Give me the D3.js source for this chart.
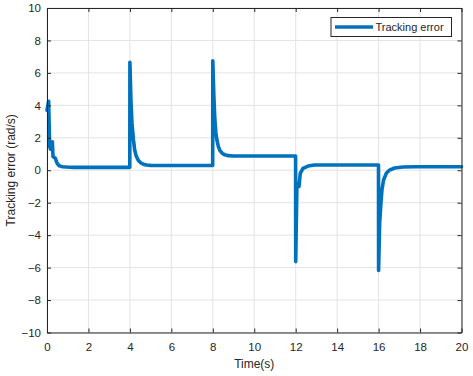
<!DOCTYPE html>
<html>
<head>
<meta charset="utf-8">
<script src="https://cdn.jsdelivr.net/npm/d3@7"></script>
<style>
  body { margin: 0; background: #fff; }
  svg text { font-family: "Liberation Sans", Arial, sans-serif; fill: #262626; }
</style>
</head>
<body>
<div id="chart"></div>
<script>
// time (s) and tracking error (rad/s)
const time = [0, 0.04, 0.08, 0.1, 0.13, 0.17, 0.22, 0.26, 0.29, 0.33, 0.4, 0.45, 0.5, 0.6, 0.75, 0.95, 1.3,
  3.995, 4.0, 4.05, 4.1, 4.17, 4.23, 4.3, 4.4, 4.52, 4.65, 4.8, 5.0, 5.4,
  7.995, 8.0, 8.05, 8.1, 8.15, 8.2, 8.27, 8.34, 8.45, 8.58, 8.75, 9.0,
  11.995, 12.0, 12.06, 12.16, 12.22, 12.35, 12.6, 12.9,
  15.995, 16.0, 16.05, 16.1, 16.16, 16.24, 16.37, 16.53, 16.77, 17.17, 17.8, 20];
const trackingError = [3.7, 4.0, 4.25, 3.0, 1.45, 1.3, 1.6, 1.75, 0.85, 0.8, 0.75, 0.55, 0.4, 0.27, 0.22, 0.2, 0.18,
  0.18, 6.65, 4.3, 2.9, 1.9, 1.25, 0.9, 0.62, 0.46, 0.37, 0.32, 0.3, 0.29,
  0.29, 6.75, 4.6, 3.1, 2.3, 1.85, 1.45, 1.23, 1.05, 0.95, 0.9, 0.88,
  0.88, -5.63, -0.81, -1.0, -0.19, 0.12, 0.26, 0.32,
  0.32, -6.18, -3.27, -2.25, -1.22, -0.6, -0.19, 0.01, 0.14, 0.2, 0.22, 0.22];
const xTicks = [0, 2, 4, 6, 8, 10, 12, 14, 16, 18, 20];
const yTicks = [-10, -8, -6, -4, -2, 0, 2, 4, 6, 8, 10];

const W = 473, H = 376;
const m = {left: 47, top: 8, right: 11.5, bottom: 43.5};
const iw = W - m.left - m.right, ih = H - m.top - m.bottom;

const svg = d3.select('#chart').append('svg').attr('width', W).attr('height', H);
const g = svg.append('g').attr('transform', `translate(${m.left},${m.top})`);

const x = d3.scaleLinear().domain([0, 20]).range([0, iw]);
const y = d3.scaleLinear().domain([-10, 10]).range([ih, 0]);

// grid
g.append('g').selectAll('line').data(xTicks).enter().append('line')
  .attr('x1', d => x(d)).attr('x2', d => x(d)).attr('y1', 0).attr('y2', ih)
  .attr('stroke', '#e3e3e3').attr('stroke-width', 1);
g.append('g').selectAll('line').data(yTicks).enter().append('line')
  .attr('y1', d => y(d)).attr('y2', d => y(d)).attr('x1', 0).attr('x2', iw)
  .attr('stroke', '#e3e3e3').attr('stroke-width', 1);

// data line
const pts = time.map((t, i) => [t, trackingError[i]]);
g.append('path').datum(pts)
  .attr('fill', 'none').attr('stroke', '#0072BD').attr('stroke-width', 3.6)
  .attr('stroke-linejoin', 'round').attr('stroke-linecap', 'round')
  .attr('d', d3.line().x(d => x(d[0])).y(d => y(d[1])));

// axes (ticks inward, box on)
function styleAxis(sel) {
  sel.select('.domain').attr('stroke', '#262626');
  sel.selectAll('.tick line').attr('stroke', '#262626');
  sel.selectAll('.tick text').style('font-size', '11.5px');
}
g.append('g').attr('transform', `translate(0,${ih})`)
  .call(d3.axisBottom(x).tickValues(xTicks).tickSizeInner(-4).tickSizeOuter(0).tickPadding(10))
  .call(styleAxis);
g.append('g')
  .call(d3.axisLeft(y).tickValues(yTicks).tickSizeInner(-4).tickSizeOuter(0).tickPadding(6))
  .call(styleAxis);
g.append('g')
  .call(d3.axisTop(x).tickValues(xTicks).tickSizeInner(-4).tickSizeOuter(0).tickFormat(''))
  .call(styleAxis);
g.append('g').attr('transform', `translate(${iw},0)`)
  .call(d3.axisRight(y).tickValues(yTicks).tickSizeInner(-4).tickSizeOuter(0).tickFormat(''))
  .call(styleAxis);

// labels
svg.append('text').attr('x', m.left + iw / 2).attr('y', 368).attr('text-anchor', 'middle')
  .style('font-size', '12px').text('Time(s)');
svg.append('text').attr('transform', `translate(15,${m.top + ih / 2}) rotate(-90)`)
  .attr('text-anchor', 'middle').style('font-size', '12px').text('Tracking error (rad/s)');

// legend
const lg = svg.append('g').attr('transform', 'translate(331,17.5)');
lg.append('rect').attr('width', 120.5).attr('height', 19).attr('fill', '#fff')
  .attr('stroke', '#262626').attr('stroke-width', 1);
lg.append('line').attr('x1', 4).attr('x2', 42).attr('y1', 9.5).attr('y2', 9.5)
  .attr('stroke', '#0072BD').attr('stroke-width', 3.6);
lg.append('text').attr('x', 44.5).attr('y', 13.5).style('font-size', '11px').text('Tracking error');
</script>
</body>
</html>
